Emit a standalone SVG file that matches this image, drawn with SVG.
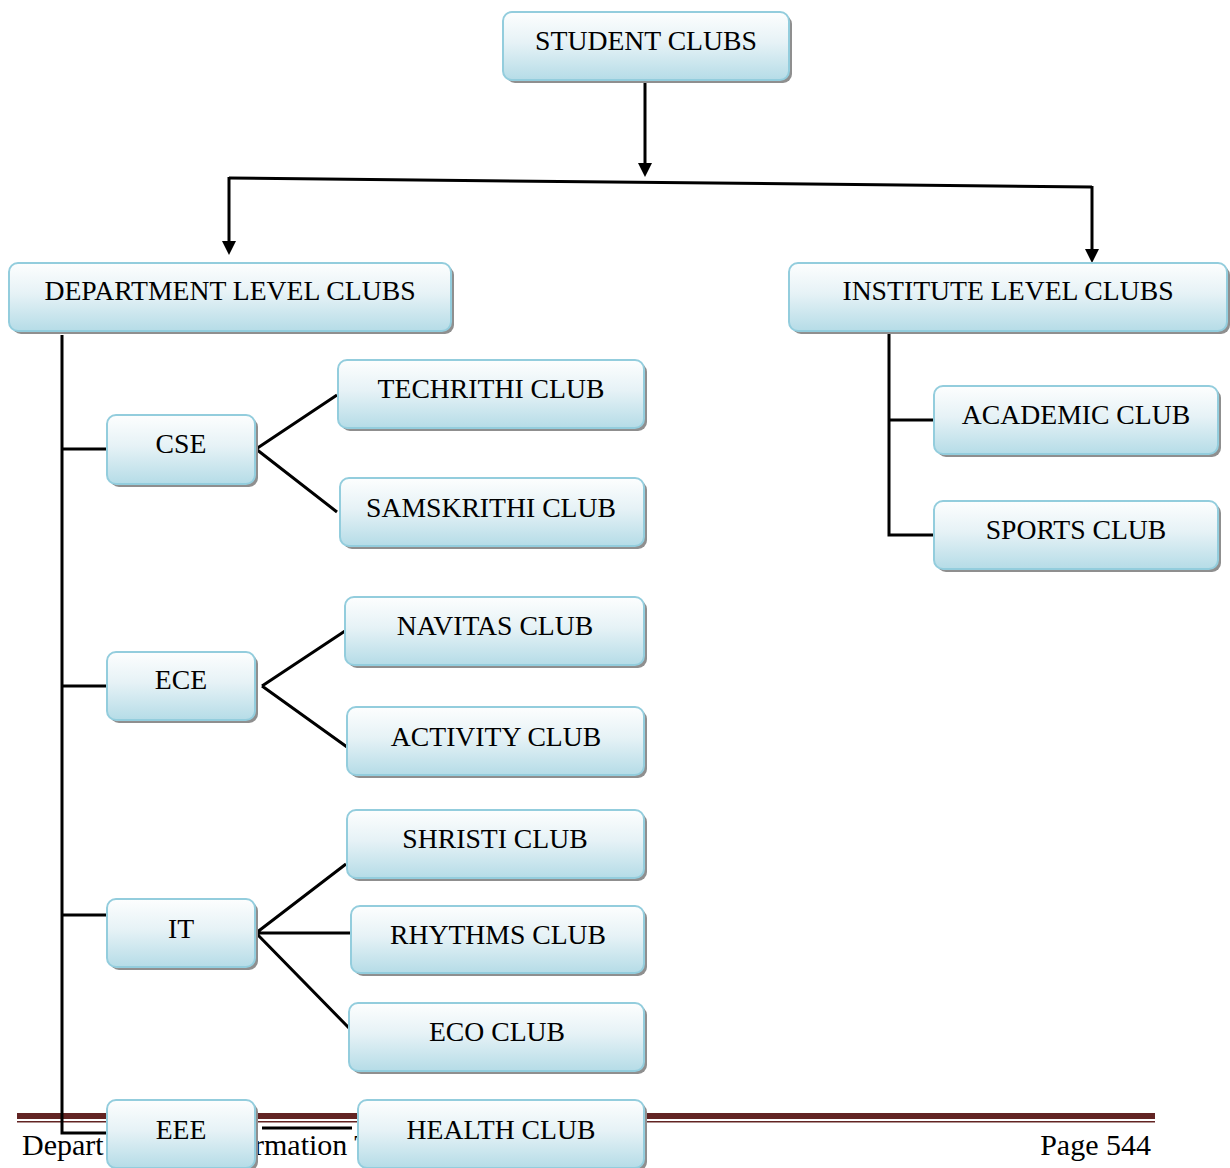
<svg xmlns="http://www.w3.org/2000/svg" width="1230" height="1168" viewBox="0 0 1230 1168">
<defs>
<linearGradient id="g" x1="0" y1="0" x2="0" y2="1">
<stop offset="0" stop-color="#fdfefe"/>
<stop offset="0.45" stop-color="#e6f2f6"/>
<stop offset="1" stop-color="#b5dce7"/>
</linearGradient>
<marker id="ah" markerUnits="userSpaceOnUse" markerWidth="14" markerHeight="14" refX="0" refY="7" orient="auto">
<path d="M0,0 L14,7 L0,14 z" fill="#000"/>
</marker>
<style>
.sh{fill:#8f8f8f;}
.bx{fill:url(#g);stroke:#93cddd;stroke-width:2;}
.t{font-family:"Liberation Serif","Times New Roman",serif;font-size:27.7px;fill:#000;text-anchor:middle;}
.c{fill:none;stroke:#000;stroke-width:3;}
.f{font-family:"Liberation Serif","Times New Roman",serif;font-size:30px;fill:#000;}
</style>
</defs>
<g id="footer">
<rect x="17" y="1113" width="1138" height="6" fill="#622423"/>
<rect x="17" y="1121" width="1138" height="1.5" fill="#622423"/>
<text class="f" x="22" y="1155">Depart</text>
<text class="f" x="254" y="1155">rmation T</text>
<text class="f" x="1151" y="1155" text-anchor="end">Page 544</text>
</g>
<g id="connectors">
<path class="c" d="M645,80 L645,163" marker-end="url(#ah)"/>
<path class="c" d="M229,178 L1092,187"/>
<path class="c" d="M229,177 L229,241" marker-end="url(#ah)"/>
<path class="c" d="M1092,186 L1092,249" marker-end="url(#ah)"/>
<path class="c" d="M62,335 L62,1133 L107,1133"/>
<path class="c" d="M62,449 L107,449"/>
<path class="c" d="M62,686 L107,686"/>
<path class="c" d="M62,915 L107,915"/>
<path class="c" d="M256,449 L337,395 M256,449 L337,512"/>
<path class="c" d="M262,686 L345,631 M262,686 L347,747"/>
<path class="c" d="M256,933 L346,864 M256,933 L351,933 M256,933 L349,1028"/>
<path class="c" d="M262,1128 L352,1128"/>
<path class="c" d="M889,333 L889,535 L934,535 M889,420 L934,420"/>
</g>
<g id="student-clubs"><rect class="sh" x="506" y="15" width="286" height="68" rx="9"/><rect class="bx" x="503" y="12" width="286" height="68" rx="9"/><text class="t" x="646" y="50">STUDENT CLUBS</text></g>
<g id="department-level-clubs"><rect class="sh" x="12" y="266" width="442" height="68" rx="9"/><rect class="bx" x="9" y="263" width="442" height="68" rx="9"/><text class="t" x="230" y="300">DEPARTMENT LEVEL CLUBS</text></g>
<g id="institute-level-clubs"><rect class="sh" x="792" y="266" width="438" height="68" rx="9"/><rect class="bx" x="789" y="263" width="438" height="68" rx="9"/><text class="t" x="1008" y="300">INSTITUTE LEVEL CLUBS</text></g>
<g id="cse"><rect class="sh" x="110" y="418" width="148" height="69" rx="9"/><rect class="bx" x="107" y="415" width="148" height="69" rx="9"/><text class="t" x="181" y="453">CSE</text></g>
<g id="techrithi-club"><rect class="sh" x="341" y="363" width="306" height="68" rx="9"/><rect class="bx" x="338" y="360" width="306" height="68" rx="9"/><text class="t" x="491" y="398">TECHRITHI CLUB</text></g>
<g id="samskrithi-club"><rect class="sh" x="343" y="481" width="304" height="68" rx="9"/><rect class="bx" x="340" y="478" width="304" height="68" rx="9"/><text class="t" x="491" y="517">SAMSKRITHI CLUB</text></g>
<g id="ece"><rect class="sh" x="110" y="655" width="148" height="68" rx="9"/><rect class="bx" x="107" y="652" width="148" height="68" rx="9"/><text class="t" x="181" y="689">ECE</text></g>
<g id="navitas-club"><rect class="sh" x="348" y="600" width="299" height="68" rx="9"/><rect class="bx" x="345" y="597" width="299" height="68" rx="9"/><text class="t" x="495" y="635">NAVITAS CLUB</text></g>
<g id="activity-club"><rect class="sh" x="350" y="710" width="297" height="68" rx="9"/><rect class="bx" x="347" y="707" width="297" height="68" rx="9"/><text class="t" x="496" y="746">ACTIVITY CLUB</text></g>
<g id="it"><rect class="sh" x="110" y="902" width="148" height="68" rx="9"/><rect class="bx" x="107" y="899" width="148" height="68" rx="9"/><text class="t" x="181" y="938">IT</text></g>
<g id="shristi-club"><rect class="sh" x="350" y="813" width="297" height="68" rx="9"/><rect class="bx" x="347" y="810" width="297" height="68" rx="9"/><text class="t" x="495" y="848">SHRISTI CLUB</text></g>
<g id="rhythms-club"><rect class="sh" x="354" y="909" width="293" height="67" rx="9"/><rect class="bx" x="351" y="906" width="293" height="67" rx="9"/><text class="t" x="498" y="944">RHYTHMS CLUB</text></g>
<g id="eco-club"><rect class="sh" x="352" y="1006" width="295" height="68" rx="9"/><rect class="bx" x="349" y="1003" width="295" height="68" rx="9"/><text class="t" x="497" y="1041">ECO CLUB</text></g>
<g id="eee"><rect class="sh" x="110" y="1103" width="148" height="68" rx="9"/><rect class="bx" x="107" y="1100" width="148" height="68" rx="9"/><text class="t" x="181" y="1139">EEE</text></g>
<g id="health-club"><rect class="sh" x="361" y="1103" width="286" height="68" rx="9"/><rect class="bx" x="358" y="1100" width="286" height="68" rx="9"/><text class="t" x="501" y="1139">HEALTH CLUB</text></g>
<g id="academic-club"><rect class="sh" x="937" y="389" width="284" height="68" rx="9"/><rect class="bx" x="934" y="386" width="284" height="68" rx="9"/><text class="t" x="1076" y="424">ACADEMIC CLUB</text></g>
<g id="sports-club"><rect class="sh" x="937" y="504" width="284" height="68" rx="9"/><rect class="bx" x="934" y="501" width="284" height="68" rx="9"/><text class="t" x="1076" y="539">SPORTS CLUB</text></g>
</svg>
